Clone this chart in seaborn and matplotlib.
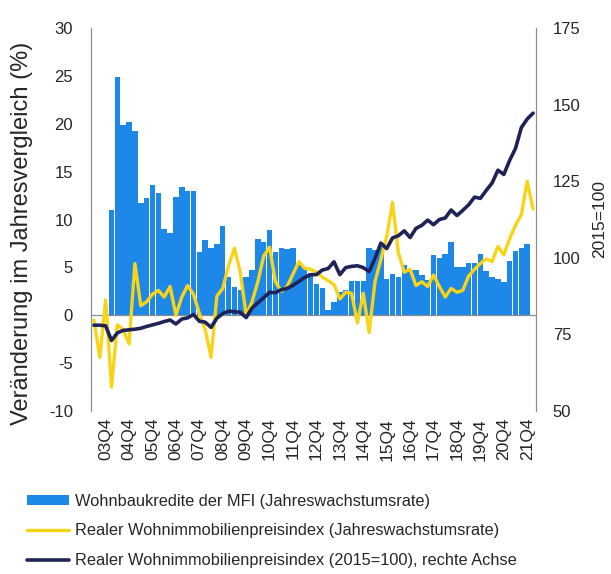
import numpy as np
import pandas as pd
import matplotlib
matplotlib.use("Agg")
import matplotlib.pyplot as plt
import seaborn as sns
from matplotlib.patches import Patch
from matplotlib.lines import Line2D

# quartals 2003Q2 .. 2022Q1
years = list(range(2003, 2023))
quarters = [f"{y % 100:02d}Q{q}" for y in years for q in range(1, 5)]
quarters = quarters[1:77]

# Wohnbaukredite der MFI (Jahreswachstumsrate, %)
wohnbaukredite = [np.nan, np.nan, np.nan,
                  11.0, 24.9, 19.9, 20.2, 19.2, 11.7, 12.2, 13.6, 12.8, 9.0,
                  8.6, 12.4, 13.4, 13.0, 13.0, 6.6, 7.9, 7.0, 7.4, 9.3,
                  4.0, 3.0, 2.6, 4.0, 4.7, 8.0, 7.6, 8.9, 6.6, 7.0,
                  6.9, 7.0, 5.3, 5.0, 4.4, 3.3, 2.8, 0.6, 1.4, 2.4,
                  2.6, 3.6, 3.6, 3.6, 7.0, 6.8, 7.1, 3.8, 4.3, 4.0,
                  5.2, 4.7, 4.7, 4.2, 3.7, 6.3, 6.0, 6.4, 7.7, 5.0,
                  5.0, 5.5, 5.5, 6.4, 4.6, 4.0, 3.8, 3.5, 5.7, 6.7,
                  7.0, 7.4, np.nan]

# Realer Wohnimmobilienpreisindex (Jahreswachstumsrate, %)
preis_wachstum = [-0.5, -4.4, 1.6, -7.5, -1.0, -1.5, -3.0, 5.4, 1.0, 1.4,
                  2.2, 2.6, 1.9, 3.0, 0.0, 1.9, 3.1, 2.2, 0.2, -1.5,
                  -4.4, 2.0, 2.8, 5.2, 7.0, 4.5, 0.0, 1.4, 3.5, 6.2,
                  7.1, 3.5, 2.5, 3.0, 4.3, 5.6, 4.9, 4.8, 4.5, 4.0,
                  3.6, 3.2, 1.7, 2.4, 2.3, -0.8, 2.3, -1.8, 3.5, 5.8,
                  8.2, 11.8, 6.5, 4.5, 4.8, 3.1, 3.5, 3.0, 4.2, 3.0,
                  1.9, 2.8, 2.4, 2.6, 4.1, 4.8, 5.4, 5.9, 5.6, 7.2,
                  6.3, 8.0, 9.4, 10.5, 14.0, 11.1]

# Realer Wohnimmobilienpreisindex (2015=100)
preis_index = [78.0, 78.0, 77.8, 73.0, 75.5, 76.3, 76.5, 76.7, 77.0, 77.6,
               78.1, 78.6, 79.2, 79.7, 78.4, 80.0, 80.4, 81.5, 79.3, 79.0,
               77.3, 80.3, 81.8, 82.6, 82.4, 82.2, 80.5, 83.6, 85.3, 87.0,
               88.7, 88.6, 89.6, 90.0, 91.0, 92.3, 93.6, 94.5, 94.5, 96.0,
               96.5, 98.7, 94.5, 96.8, 97.2, 97.4, 96.8, 95.5, 99.8, 104.8,
               103.0, 106.5, 107.2, 108.8, 106.6, 109.6, 110.6, 112.3, 110.8, 112.5,
               113.0, 115.6, 113.8, 115.5, 117.3, 119.8, 119.4, 122.0, 124.4, 128.6,
               127.2, 131.8, 135.7, 142.5, 145.3, 147.2]

df = pd.DataFrame({
    "pos": range(len(quarters)),
    "quartal": quarters,
    "kredite": wohnbaukredite,
    "wachstum": preis_wachstum,
    "index": preis_index,
})

sns.set_style("white")
plt.rcParams["font.family"] = ["Liberation Sans", "DejaVu Sans"]
plt.rcParams["axes.unicode_minus"] = False

blau = "#1e88e8"
gelb = "#f7d417"
dunkel = "#1f2357"
grau = "#8c8c8c"

fig = plt.figure(figsize=(6.11, 5.74), dpi=100)
ax = fig.add_axes([91 / 611, 1 - 411 / 574, 445 / 611, 383 / 574])

sns.barplot(data=df, x="pos", y="kredite", order=list(range(len(quarters))),
            color=blau, saturation=1, width=0.94, linewidth=0, ax=ax, zorder=2)
sns.lineplot(data=df, x="pos", y="wachstum", color=gelb, linewidth=2.4,
             ax=ax, zorder=3)
ax.axhline(0, color=grau, linewidth=0.9, zorder=1)

ax.set_ylim(-10, 30)
ax.set_yticks(range(-10, 31, 5))
ax.set_xlim(-0.5, len(quarters) - 0.5)
q4 = [i for i, q in enumerate(quarters) if q.endswith("Q4")]
ax.set_xticks(q4)
ax.set_xticklabels([quarters[i] for i in q4], rotation=90)
ax.set_xlabel("")
ax.set_ylabel("Veränderung im Jahresvergleich (%)", fontsize=17)
ax.yaxis.set_label_coords(-0.13, 0.465)
ax.tick_params(axis="y", length=0, pad=13, labelsize=12)
ax.tick_params(axis="x", length=0, pad=5, labelsize=12.5)

ax2 = ax.twinx()
sns.lineplot(data=df, x="pos", y="index", color=dunkel, linewidth=2.6, ax=ax2)
ax2.set_ylim(50, 175)
ax2.set_yticks(range(50, 176, 25))
ax2.set_ylabel("2015=100", fontsize=12.5, labelpad=8)
ax2.tick_params(axis="y", length=0, pad=12, labelsize=12)
ax2.set_xlim(-0.5, len(quarters) - 0.5)

for a in (ax, ax2):
    a.spines["top"].set_visible(False)
    a.spines["bottom"].set_visible(False)
    a.spines["left"].set_color(grau)
    a.spines["right"].set_color(grau)
    a.grid(False)

handles = [
    Patch(facecolor=blau, edgecolor="none"),
    Line2D([0], [0], color=gelb, linewidth=2.4),
    Line2D([0], [0], color=dunkel, linewidth=2.6),
]
labels = [
    "Wohnbaukredite der MFI (Jahreswachstumsrate)",
    "Realer Wohnimmobilienpreisindex (Jahreswachstumsrate)",
    "Realer Wohnimmobilienpreisindex (2015=100), rechte Achse",
]
fig.legend(handles, labels, loc="upper left", bbox_to_anchor=(0.044, 0.14),
           frameon=False, fontsize=11.8, handlelength=2.6, handleheight=0.6,
           handletextpad=0.35, labelspacing=0.9, borderpad=0, borderaxespad=0)

plt.savefig("out.png", dpi=100)
